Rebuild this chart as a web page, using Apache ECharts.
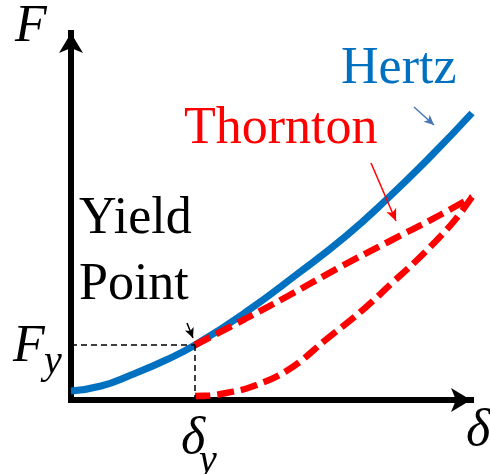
<!DOCTYPE html>
<html>
<head>
<meta charset="utf-8">
<script src="https://cdn.jsdelivr.net/npm/echarts@6/dist/echarts.min.js"></script>
<style>
  html, body { margin: 0; padding: 0; background: #fff; }
  #chart { width: 490px; height: 474px; }
</style>
</head>
<body>
<div id="chart"></div>
<script>
// Hertz elastic contact curve (deflection vs force)
const deltaHertz = [0, 30, 60, 95, 124, 175, 225, 275, 315, 361, 401];
const forceHertz = [9, 14, 25, 40, 55, 88, 125, 164, 200, 245, 287];

// Thornton elastic-plastic model: loading branch from the yield point up to the peak
const deltaLoading = [124, 174, 217, 271, 317, 369, 401];
const forceLoading = [55, 81, 104, 134, 158, 185, 203];

// Thornton unloading branch from the peak back down to the axis
const deltaUnloading = [401, 384, 364, 344, 321, 294, 257, 217, 180, 155, 139, 124];
const forceUnloading = [203, 180, 158, 138, 117, 92, 62, 30, 13, 7, 4.5, 4];

// Yield point
const deltaYield = 124;
const forceYield = 55;

// Text labels
const axisNames = { force: 'F', deflection: 'δ', sub: 'y' };
const curveNames = ['Hertz', 'Thornton'];
const yieldLabel = ['Yield', 'Point'];

const zip = (xs, ys) => xs.map((x, i) => [x, ys[i]]);

const SERIF = "'Liberation Serif', 'Times New Roman', serif";
const BLUE = '#0070C0';
const RED = '#FF0000';

const chart = echarts.init(document.getElementById('chart'), null, { renderer: 'canvas' });

function txt(text, x, y, size, color, italic) {
  return {
    type: 'text', x: x, y: y, z: 100,
    style: {
      text: text, fill: color, fontSize: size, fontFamily: SERIF,
      fontStyle: italic ? 'italic' : 'normal',
      align: 'left', verticalAlign: 'middle'
    }
  };
}

const arrowLine = (color, from, to, size) => ({
  silent: true, animation: false,
  symbol: ['none', 'arrow'], symbolSize: size,
  label: { show: false },
  lineStyle: { color: color, width: 1.5, type: 'solid' },
  emphasis: { disabled: true },
  data: [[{ coord: from }, { coord: to }]]
});

const thorntonStyle = { color: RED, width: 6.5, type: [17, 7] };

chart.setOption({
  animation: false,
  backgroundColor: '#fff',
  grid: { left: 71, right: 19, top: 33, bottom: 74, containLabel: false },
  xAxis: {
    type: 'value', min: 0, max: 400,
    axisLine: {
      show: true, onZero: false,
      symbol: ['none', 'arrow'], symbolSize: [18, 20],
      lineStyle: { color: '#000', width: 6, cap: 'square' }
    },
    axisTick: { show: false }, axisLabel: { show: false }, splitLine: { show: false }
  },
  yAxis: {
    type: 'value', min: 0, max: 367,
    axisLine: {
      show: true, onZero: false,
      symbol: ['none', 'arrow'], symbolSize: [18, 20],
      lineStyle: { color: '#000', width: 6, cap: 'square' }
    },
    axisTick: { show: false }, axisLabel: { show: false }, splitLine: { show: false }
  },
  series: [
    {
      // dashed guides from the yield point to both axes
      type: 'line', data: [], z: 1,
      markLine: {
        silent: true, animation: false, symbol: ['none', 'none'],
        label: { show: false },
        lineStyle: { color: '#000', width: 1.5, type: [6, 4] },
        emphasis: { disabled: true },
        data: [
          [{ coord: [0, forceYield] }, { coord: [deltaYield, forceYield] }],
          [{ coord: [deltaYield, forceYield] }, { coord: [deltaYield, 0] }]
        ]
      }
    },
    {
      name: curveNames[0], type: 'line', z: 2, clip: false,
      data: zip(deltaHertz, forceHertz),
      smooth: 0.5, showSymbol: false,
      lineStyle: { color: BLUE, width: 7 }
    },
    {
      name: curveNames[1], type: 'line', z: 3, clip: false,
      data: zip(deltaLoading, forceLoading),
      smooth: 0.4, showSymbol: false,
      lineStyle: thorntonStyle
    },
    {
      name: curveNames[1], type: 'line', z: 3, clip: false,
      data: zip(deltaUnloading, forceUnloading),
      smooth: 0.4, showSymbol: false,
      lineStyle: thorntonStyle
    },
    { type: 'line', data: [], z: 4, markLine: arrowLine('#4A76B8', [343, 293], [363, 275], [7, 10]) },
    { type: 'line', data: [], z: 4, markLine: arrowLine(RED, [300, 237], [325, 179], [8, 12]) },
    { type: 'line', data: [], z: 4, markLine: arrowLine('#000', [116, 77], [122, 62], [7, 10]) }
  ],
  graphic: [
    txt(axisNames.force, 15, 27.5, 52, '#000', true),
    txt(curveNames[0], 341, 69.5, 52, BLUE, false),
    txt(curveNames[1], 184, 129.5, 52, RED, false),
    txt(yieldLabel[0], 79, 219.5, 52, '#000', false),
    txt(yieldLabel[1], 79, 285.5, 52, '#000', false),
    txt(axisNames.force, 13, 347.5, 52, '#000', true),
    txt(axisNames.sub, 44, 362, 40, '#000', true),
    txt(axisNames.deflection, 181, 439, 52, '#000', true),
    txt(axisNames.sub, 199, 461, 40, '#000', true),
    txt(axisNames.deflection, 466, 431, 52, '#000', true)
  ]
});
</script>
</body>
</html>
